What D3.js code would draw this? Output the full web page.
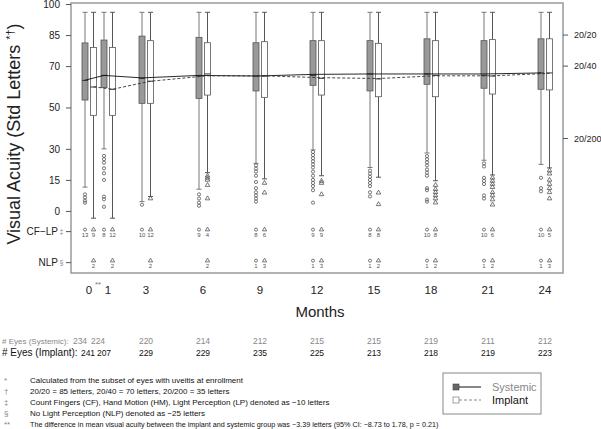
<!DOCTYPE html>
<html>
<head>
<meta charset="utf-8">
<script src="https://cdn.jsdelivr.net/npm/d3@7"></script>
<style>
  body { margin:0; background:#fff; }
  svg text { font-family: "Liberation Sans", Arial, Helvetica, sans-serif; }
</style>
</head>
<body>
<div id="chart"></div>
<script>
var months = [0, 1, 3, 6, 9, 12, 15, 18, 21, 24];

// box stats: [whisker low, q1, median, q3, whisker high]
var sys_box = [
  [11.5, 53.6, 63.1, 81.2, 96], [30, 59.6, 65.5, 82.6, 96], [4.5, 52, 64.1, 84.5, 96],
  [10.5, 54.4, 65.2, 83.9, 96], [23, 58, 65.2, 81.3, 96], [29.5, 60.7, 65.5, 82.3, 96],
  [21, 58, 66.2, 82.3, 96], [28, 61.2, 66.2, 83.2, 96], [24.5, 59.3, 65.5, 82.3, 96],
  [22.5, 58.8, 66.7, 83.2, 96]
];
var imp_box = [
  [-3.5, 46.2, 59.9, 79, 96], [-3.5, 46.2, 58.8, 79, 96], [7, 52, 62.7, 82.3, 96],
  [18.5, 56, 66.2, 81.3, 96], [15.5, 54.9, 65.2, 81.8, 96], [17, 56, 64.1, 82.3, 96],
  [16.3, 55.2, 63.8, 81, 96], [14.6, 55.2, 65.5, 82.3, 96], [17.4, 56.5, 65.2, 82.8, 96],
  [20.8, 58.5, 66.7, 83.2, 96]
];
var sys_outliers = [
  [8, 6.5, 5, 4],
  [26.6, 25, 23.3, 20.6, 18.2, 15, 6.9, 5.6, 2],
  [3],
  [8, 6, 4, 2.5],
  [22, 20.5, 19, 17, 14, 11, 9, 7.5, 6, 4.5],
  [28.5, 27, 25.5, 24, 22.5, 21, 19, 17, 15, 13.5, 12, 10, 4],
  [19.5, 18, 16.5, 15, 13.5, 12, 9, 7],
  [26.5, 25, 23.5, 22, 20, 18.5, 17, 11, 10, 5.5, 4.5],
  [23, 21.5, 16, 14.5, 13, 7.5, 6],
  [16, 11, 9.5]
];
var imp_outliers = [
  [], [], [6],
  [17, 16, 15, 12.5, 6],
  [13.5, 8.8],
  [14.5, 13.5, 8],
  [8.8, 3.2],
  [12.5, 10.5, 9, 7.5, 6, 4],
  [16, 14.5, 13, 11.5, 9, 7.5, 5.5, 3],
  [19.5, 18, 15, 13, 11, 9, 6]
];
var sys_mean = [63.2, 65.5, 64.3, 65.5, 65.2, 66.0, 66.2, 66.2, 66.2, 66.7];
var imp_mean = [60.0, 58.8, 62.7, 65.3, 65.3, 64.4, 64.0, 65.3, 65.3, 66.5];

var sys_cflp = [13, 8, 10, 9, 8, 9, 8, 10, 10, 10];
var imp_cflp = [9, 12, 12, 4, 6, 9, 8, 8, 6, 5];
var sys_nlp  = [0, 0, 0, 0, 1, 1, 1, 1, 1, 1];
var imp_nlp  = [2, 2, 2, 2, 3, 3, 2, 2, 2, 3];

var sys_n = [234, 224, 220, 214, 212, 215, 215, 219, 211, 212];
var imp_n = [241, 207, 229, 229, 235, 225, 213, 218, 219, 223];

var y_ticks_left  = [0, 15, 30, 50, 70, 85, 100];
var y_ticks_right = [{ v:85, t:"20/20" }, { v:70, t:"20/40" }, { v:35, t:"20/200" }];

var footnotes = [
  ["*",  "Calculated from the subset of eyes with uveitis at enrollment"],
  ["\u2020", "20/20 = 85 letters, 20/40 = 70 letters, 20/200 = 35 letters"],
  ["\u2021", "Count Fingers (CF), Hand Motion (HM), Light Perception (LP) denoted as \u221210 letters"],
  ["\u00a7", "No Light Perception (NLP) denoted as \u221225 letters"],
  ["**", "The difference in mean visual acuity between the implant and systemic group was \u22123.39 letters (95% CI: \u22128.73 to 1.78, p = 0.21)"]
];

var W = 601, H = 429;
var plot = { left:71, right:563, top:3, bottom:273 };
var x = d3.scaleLinear().domain([0, 24]).range([89, 545]);
var y = d3.scaleLinear().domain([-30, 100.5]).range([plot.bottom, plot.top]);

var svg = d3.select("#chart").append("svg").attr("width", W).attr("height", H);

// frame
svg.append("rect")
  .attr("x", plot.left).attr("y", plot.top)
  .attr("width", plot.right - plot.left).attr("height", plot.bottom - plot.top)
  .style("fill", "none").style("stroke", "#999").style("stroke-width", 1.5);

// left axis
var ax_left = d3.axisLeft(y).tickValues(y_ticks_left).tickSize(5).tickPadding(6);
var gl = svg.append("g").attr("transform", "translate(" + plot.left + ",0)").call(ax_left);
gl.select(".domain").remove();
gl.selectAll("line").style("stroke", "#555");
gl.selectAll("text").style("font-size", "10px").style("fill", "#222");

// extra left labels for CF-LP and NLP
[{ v:-10, t:"CF\u2212LP", s:"\u2021" }, { v:-25, t:"NLP", s:"\u00a7" }].forEach(function (d) {
  svg.append("line")
    .attr("x1", plot.left - 5).attr("x2", plot.left)
    .attr("y1", y(d.v)).attr("y2", y(d.v))
    .style("stroke", "#555");
  svg.append("text")
    .attr("x", plot.left - 13).attr("y", y(d.v)).attr("dy", "0.35em")
    .attr("text-anchor", "end")
    .style("font-size", "10px").style("fill", "#222").text(d.t);
  svg.append("text")
    .attr("x", plot.left - 11.5).attr("y", y(d.v)).attr("dy", "0.35em")
    .style("font-size", "7px").style("fill", "#888").text(d.s);
});

// right axis
y_ticks_right.forEach(function (d) {
  svg.append("line")
    .attr("x1", plot.right).attr("x2", plot.right + 5)
    .attr("y1", y(d.v)).attr("y2", y(d.v))
    .style("stroke", "#555");
  svg.append("text")
    .attr("x", plot.right + 11).attr("y", y(d.v)).attr("dy", "0.35em")
    .style("font-size", "9px").style("fill", "#222").text(d.t);
});

// x tick labels
months.forEach(function (m) {
  svg.append("text")
    .attr("x", x(m)).attr("y", 294)
    .attr("text-anchor", "middle")
    .style("font-size", "11.5px").style("fill", "#222").text(m);
});
svg.append("text").attr("x", x(0) + 6).attr("y", 287)
  .style("font-size", "8px").style("fill", "#777").text("**");

svg.append("text").attr("x", 320).attr("y", 317)
  .attr("text-anchor", "middle").style("font-size", "15px").style("fill", "#222").text("Months");

// y label
var ylab = svg.append("text")
  .attr("transform", "translate(20,134) rotate(-90)")
  .attr("text-anchor", "middle")
  .style("font-size", "18px").style("fill", "#222");
ylab.append("tspan").text("Visual Acuity (Std Letters ");
ylab.append("tspan").attr("dy", -6).style("font-size", "11px").text("*\u2020");
ylab.append("tspan").attr("dy", 6).text(")");

// mean lines
var line_sys = d3.line().x(function (d, i) { return x(months[i]) - 4; }).y(function (d) { return y(d); });
var line_imp = d3.line().x(function (d, i) { return x(months[i]) + 4.5; }).y(function (d) { return y(d); });

// boxes
function draw_box (stats, outl, cx, fill, wcol, sym) {
  var g = svg.append("g");
  g.append("line").attr("x1", cx).attr("x2", cx).attr("y1", y(stats[4])).attr("y2", y(stats[3]))
    .style("stroke", wcol).style("stroke-width", 1);
  g.append("line").attr("x1", cx).attr("x2", cx).attr("y1", y(stats[1])).attr("y2", y(stats[0]))
    .style("stroke", wcol).style("stroke-width", 1);
  [stats[0], stats[4]].forEach(function (v) {
    g.append("line").attr("x1", cx - 2.5).attr("x2", cx + 2.5).attr("y1", y(v)).attr("y2", y(v))
      .style("stroke", wcol);
  });
  g.append("rect").attr("x", cx - 3).attr("width", 6)
    .attr("y", y(stats[3])).attr("height", y(stats[1]) - y(stats[3]))
    .style("fill", fill).style("stroke", "#555").style("stroke-width", 0.8);
  g.append("line").attr("x1", cx - 3).attr("x2", cx + 3).attr("y1", y(stats[2])).attr("y2", y(stats[2]))
    .style("stroke", "#333").style("stroke-width", 1);
  outl.forEach(function (v) {
    if (sym == "circle") {
      g.append("circle").attr("cx", cx).attr("cy", y(v)).attr("r", 1.6)
        .style("fill", "none").style("stroke", "#555").style("stroke-width", 0.8);
    } else {
      g.append("path").attr("d", d3.symbol(d3.symbolTriangle, 9)())
        .attr("transform", "translate(" + cx + "," + y(v) + ")")
        .style("fill", "none").style("stroke", "#555").style("stroke-width", 0.8);
    }
  });
}

months.forEach(function (m, i) {
  draw_box(sys_box[i], sys_outliers[i], x(m) - 4, "#999", "#777", "circle");
  draw_box(imp_box[i], imp_outliers[i], x(m) + 4.5, "#fff", "#555", "triangle");
});

svg.append("path").datum(sys_mean).attr("d", line_sys)
  .style("fill", "none").style("stroke", "#111").style("stroke-width", 0.9);
svg.append("path").datum(imp_mean).attr("d", line_imp)
  .style("fill", "none").style("stroke", "#333").style("stroke-width", 0.9)
  .style("stroke-dasharray", "3,2");

// counts at CF-LP and NLP
function draw_count (v, n, cx, sym) {
  if (n <= 0) return;
  if (sym == "circle") {
    svg.append("circle").attr("cx", cx).attr("cy", y(v) - 2).attr("r", 1.5)
      .style("fill", "none").style("stroke", "#555").style("stroke-width", 0.8);
  } else {
    svg.append("path").attr("d", d3.symbol(d3.symbolTriangle, 8)())
      .attr("transform", "translate(" + cx + "," + (y(v) - 2) + ")")
      .style("fill", "none").style("stroke", "#555").style("stroke-width", 0.8);
  }
  svg.append("text").attr("x", cx).attr("y", y(v) + 5)
    .attr("text-anchor", "middle").style("font-size", "6px").style("fill", "#555").text(n);
}
months.forEach(function (m, i) {
  draw_count(-10, sys_cflp[i], x(m) - 4, "circle");
  draw_count(-10, imp_cflp[i], x(m) + 4.5, "triangle");
  draw_count(-25, sys_nlp[i], x(m) - 4, "circle");
  draw_count(-25, imp_nlp[i], x(m) + 4.5, "triangle");
});

// table of eyes
svg.append("text").attr("x", 2).attr("y", 344)
  .style("font-size", "8px").style("fill", "#888").text("# Eyes (Systemic):");
svg.append("text").attr("x", 2).attr("y", 355.5)
  .style("font-size", "10px").style("fill", "#111").text("# Eyes (Implant):");
var sys_shift = [-9, -10, 0, 0, 0, 0, 0, 0, 0, 0];
var imp_shift = [-1, -4, 0, 0, 0, 0, 0, 0, 0, 0];
months.forEach(function (m, i) {
  svg.append("text").attr("x", x(m) + sys_shift[i]).attr("y", 344)
    .attr("text-anchor", "middle").style("font-size", "8.5px").style("fill", "#888").text(sys_n[i]);
  svg.append("text").attr("x", x(m) + imp_shift[i]).attr("y", 355.5)
    .attr("text-anchor", "middle").style("font-size", "8.5px").style("fill", "#111").text(imp_n[i]);
});

// footnotes
var foot_size = [8, 8, 8, 8, 7.2];
footnotes.forEach(function (f, i) {
  svg.append("text").attr("x", 4).attr("y", 383 + i * 11)
    .style("font-size", "8px").style("fill", "#888").text(f[0]);
  svg.append("text").attr("x", 30).attr("y", 383 + i * 11)
    .style("font-size", foot_size[i] + "px").style("fill", "#111").text(f[1]);
});

// legend
var lg = svg.append("g").attr("transform", "translate(443,373)");
lg.append("rect").attr("width", 98).attr("height", 41)
  .style("fill", "#fff").style("stroke", "#888").style("stroke-width", 1);
lg.append("rect").attr("x", 10).attr("y", 11).attr("width", 6).attr("height", 6)
  .style("fill", "#666").style("stroke", "#444").style("stroke-width", 0.6);
lg.append("line").attr("x1", 16).attr("x2", 38).attr("y1", 14).attr("y2", 14)
  .style("stroke", "#111");
lg.append("text").attr("x", 49).attr("y", 18).style("font-size", "11px").style("fill", "#888").text("Systemic");
lg.append("rect").attr("x", 10).attr("y", 24).attr("width", 6).attr("height", 6)
  .style("fill", "#fff").style("stroke", "#666").style("stroke-width", 0.6);
lg.append("line").attr("x1", 16).attr("x2", 38).attr("y1", 27).attr("y2", 27)
  .style("stroke", "#888").style("stroke-dasharray", "3,2");
lg.append("text").attr("x", 49).attr("y", 31).style("font-size", "11px").style("fill", "#111").text("Implant");
</script>
</body>
</html>
